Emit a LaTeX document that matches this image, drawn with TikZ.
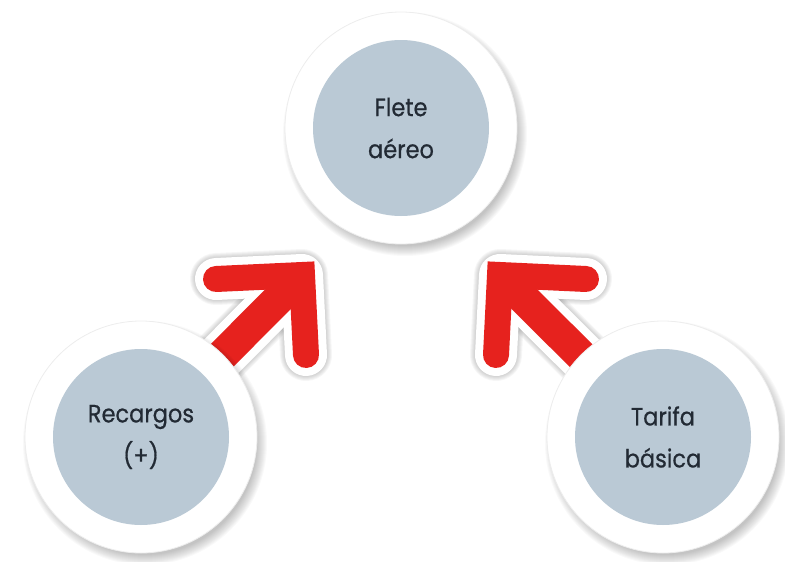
\documentclass[tikz,border=0pt]{standalone}
\usepackage{fontspec}
\setmainfont{Poppins}[FakeStretch=0.9, FakeBold=0.6]
\usetikzlibrary{backgrounds}
\definecolor{coreblue}{RGB}{186,201,213}
\definecolor{inkgray}{RGB}{34,42,52}
\definecolor{cuered}{RGB}{230,34,30}

% one arrow: shaft from the origin node towards the tip, then the bent head
% #1 tip, #2 origin node, #3 side (-1 left, +1 right), #4 extra width, #5 options
\newcommand\cuepaths[5]{%
  \draw[#5, line width={32+#4}, shorten >=17pt] (#2.center) -- (#1);
  \draw[#5, line width={26+#4}] ([shift={({#3*86},4)}]#1) -- (#1) -- ++({-#3*4},80);
}

\begin{document}
\begin{tikzpicture}[x=1pt,y=-1pt,
  ring/.style={circle, fill=white, draw=black!7, line width=0.8pt,
    minimum size=232pt, inner sep=0pt},
  core/.style={circle, fill=coreblue, minimum size=176pt, inner sep=0pt,
    align=center, text=inkgray, font=\fontsize{25}{42}\selectfont},
  cueshade/.style={draw=black, opacity=0.035, line cap=round, line join=round,
    shift={(5,5)}},
  cueedge/.style={draw=white, line cap=round, line join=round},
  cuefill/.style={draw=cuered, line cap=round, line join=miter},
]
\useasboundingbox (0,0) rectangle (785,562);

% white rings with the blue-grey discs and their labels
\node[ring] (topring) at (401,128) {};
\node[core] (top) at (401,128) {Flete\\aéreo};
\node[ring] (leftring) at (141,437) {};
\node[core] (left) at (141,437) {Recargos\\(+)};
\node[ring] (rightring) at (663,437) {};
\node[core] (right) at (663,437) {Tarifa\\básica};

% arrow tips below the top circle
\coordinate (ltip) at ([shift={(-99,147)}]top.center);
\coordinate (rtip) at ([shift={(99,147)}]top.center);

\begin{scope}[on background layer]
  % soft shadows of the arrows
  \foreach \k in {1,...,6} {
    \cuepaths{ltip}{left}{-1}{14+2*\k}{cueshade}
    \cuepaths{rtip}{right}{1}{14+2*\k}{cueshade}
  }
  % white outlines
  \cuepaths{ltip}{left}{-1}{16}{cueedge}
  \cuepaths{rtip}{right}{1}{16}{cueedge}
  % red arrows
  \cuepaths{ltip}{left}{-1}{0}{cuefill}
  \cuepaths{rtip}{right}{1}{0}{cuefill}
  % soft shadows of the circles
  \foreach \n in {topring,leftring,rightring} {
    \foreach \k in {-4,...,6} {
      \fill[black, opacity=0.025] ([shift={(4,6)}]\n.center) circle ({116+\k});
    }
  }
\end{scope}
\end{tikzpicture}
\end{document}
